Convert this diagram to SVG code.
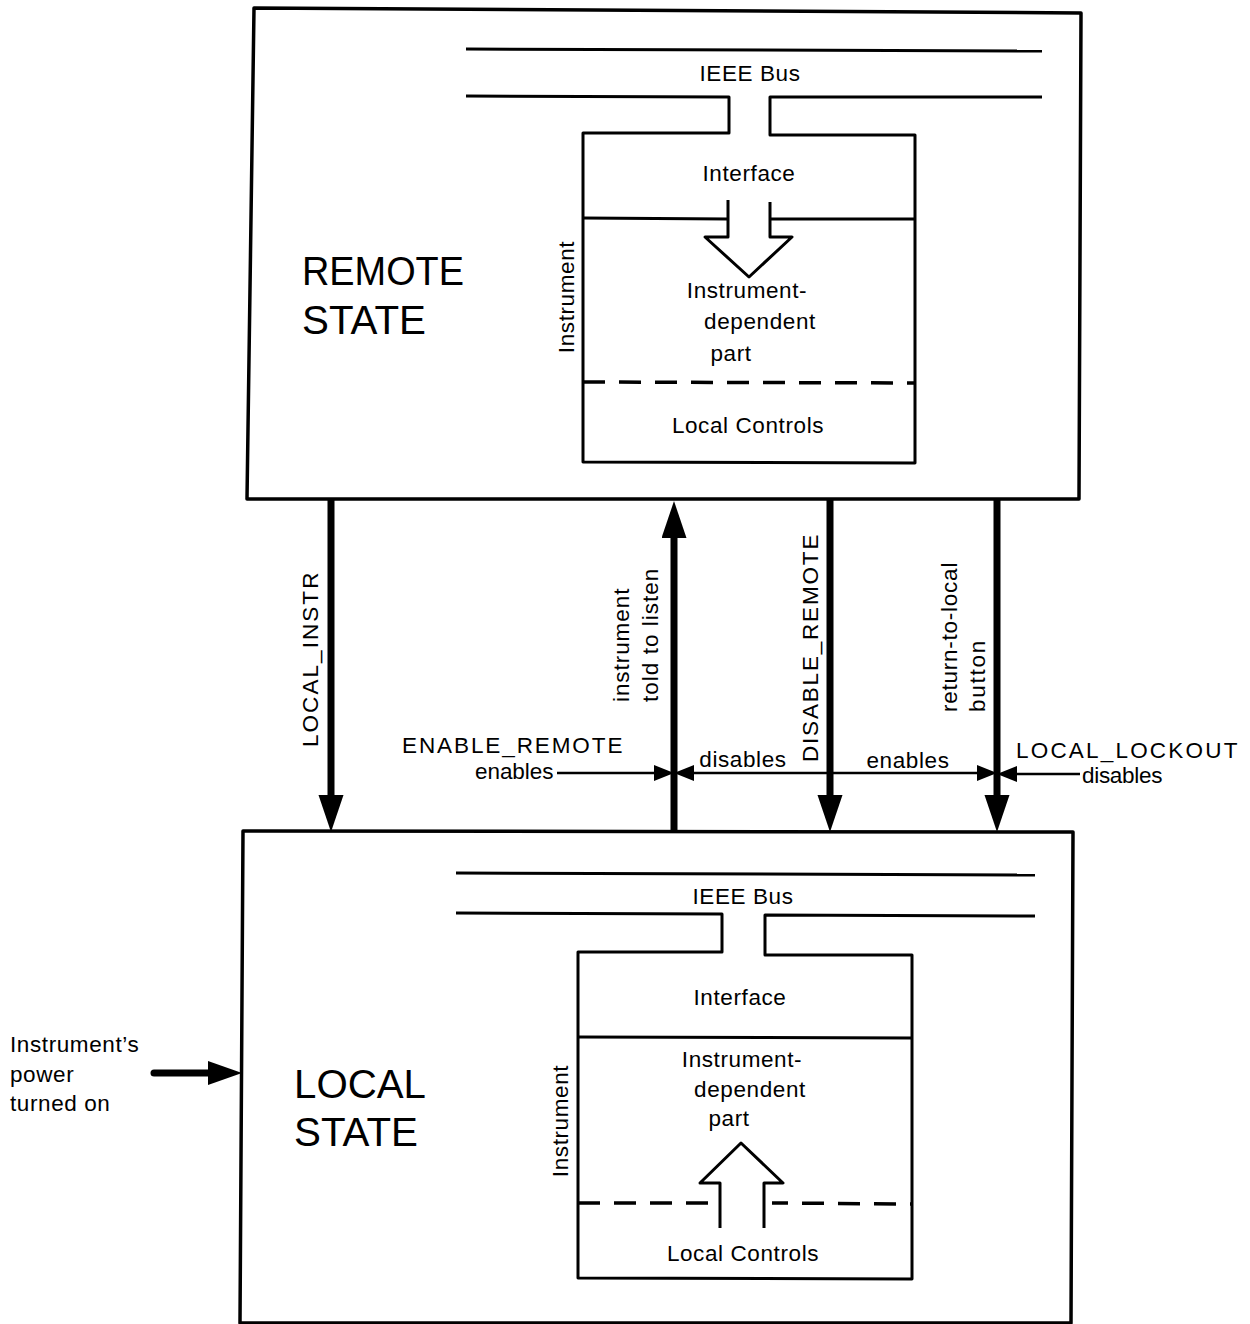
<svg xmlns="http://www.w3.org/2000/svg" width="1250" height="1324" viewBox="0 0 1250 1324">
  <defs>
    <style>
      .frame { fill: none; stroke: #000; stroke-width: 3.5; stroke-linejoin: round; }
      .part { fill: none; stroke: #000; stroke-width: 3; stroke-linejoin: round; }
      .dash { fill: none; stroke: #000; stroke-width: 3.5; stroke-dasharray: 22 14; }
      .thick { fill: none; stroke: #000; stroke-width: 7; }
      .thin { fill: none; stroke: #000; stroke-width: 2.5; }
      .lbl { font-family: "Liberation Sans", Arial, sans-serif; font-size: 22.5px; letter-spacing: 0.6px; fill: #000; }
      .mid { text-anchor: middle; }
      .big { font-family: "Liberation Sans", Arial, sans-serif; font-size: 41px; fill: #000; }
    </style>
    <marker id="headThick" markerUnits="userSpaceOnUse" markerWidth="40" markerHeight="26" refX="0" refY="12.5" orient="auto">
      <path d="M0,0 L37,12.5 L0,25 z" fill="#000"/>
    </marker>
    <marker id="headThin" markerUnits="userSpaceOnUse" markerWidth="22" markerHeight="18" refX="0" refY="8" orient="auto-start-reverse">
      <path d="M0,0 L20,8 L0,16 z" fill="#000"/>
    </marker>
    <marker id="headPower" markerUnits="userSpaceOnUse" markerWidth="36" markerHeight="26" refX="0" refY="12" orient="auto">
      <path d="M0,0 L34,12 L0,24 z" fill="#000"/>
    </marker>
  </defs>

  <!-- Remote state -->
  <g id="remote-state">
    <path class="frame" d="M254,8 L1081,13 L1079,499 L247,499 Z"/>
    <text class="big" x="302" y="285" textLength="162" lengthAdjust="spacingAndGlyphs">REMOTE</text>
    <text class="big" x="302" y="334" textLength="124" lengthAdjust="spacingAndGlyphs">STATE</text>
    <!-- bus -->
    <path class="part" d="M466,49 L1042,51"/>
    <path class="part" d="M466,96 L729,97 L729,133 L583,133 L583,462 L915,463 L915,135 L770,135 L770,97 L1042,97"/>
    <text class="lbl mid" x="750" y="81">IEEE Bus</text>
    <!-- interface -->
    <path class="part" d="M583,218 L728,219 M770,219 L915,219"/>
    <path class="part" d="M728,200 L728,237 L705,237 L749,277 L792,237 L770,237 L770,202"/>
    <text class="lbl mid" x="749" y="181">Interface</text>
    <text class="lbl mid" x="747" y="298">Instrument-</text>
    <text class="lbl mid" x="760" y="329">dependent</text>
    <text class="lbl mid" x="731" y="361">part</text>
    <path class="dash" d="M583,382 L915,383"/>
    <text class="lbl mid" x="748" y="433">Local Controls</text>
    <text class="lbl mid" transform="translate(574,297) rotate(-90)">Instrument</text>
  </g>

  <!-- Local state -->
  <g id="local-state">
    <path class="frame" d="M243,831 L1073,832 L1071,1323 L240,1323 Z"/>
    <text class="big" x="294" y="1098" textLength="132" lengthAdjust="spacingAndGlyphs">LOCAL</text>
    <text class="big" x="294" y="1146" textLength="124" lengthAdjust="spacingAndGlyphs">STATE</text>
    <path class="part" d="M456,873 L1035,875"/>
    <path class="part" d="M456,913 L722,914 L722,952 L578,952 L578,1278 L912,1279 L912,955 L765,955 L765,915 L1035,916"/>
    <text class="lbl mid" x="743" y="904">IEEE Bus</text>
    <path class="part" d="M578,1037 L912,1038"/>
    <text class="lbl mid" x="740" y="1005">Interface</text>
    <text class="lbl mid" x="742" y="1067">Instrument-</text>
    <text class="lbl mid" x="750" y="1097">dependent</text>
    <text class="lbl mid" x="729" y="1126">part</text>
    <path class="part" d="M720,1228 L720,1183 L700,1183 L741,1143 L783,1183 L764,1183 L764,1228"/>
    <path class="dash" d="M578,1203 L712,1203"/>
    <path class="dash" d="M772,1203 L912,1204" stroke-dashoffset="6"/>
    <text class="lbl mid" x="743" y="1261">Local Controls</text>
    <text class="lbl mid" transform="translate(568,1121) rotate(-90)">Instrument</text>
  </g>

  <!-- Power-on entry -->
  <g id="power-on">
    <text class="lbl" x="10" y="1052">Instrument’s</text>
    <text class="lbl" x="10" y="1082">power</text>
    <text class="lbl" x="10" y="1111">turned on</text>
  </g>

  <!-- Transitions -->
  <g id="connectors">
    <line class="thick" x1="154" y1="1073" x2="208" y2="1073" stroke-width="8" stroke-linecap="round" marker-end="url(#headPower)"/>

    <line class="thick" x1="331" y1="499" x2="331" y2="795" marker-end="url(#headThick)"/>
    <line class="thick" x1="674" y1="831" x2="674" y2="538" marker-end="url(#headThick)"/>
    <line class="thick" x1="830" y1="499" x2="830" y2="795" marker-end="url(#headThick)"/>
    <line class="thick" x1="997" y1="499" x2="997" y2="795" marker-end="url(#headThick)"/>

    <line class="thin" x1="557" y1="773" x2="654" y2="773" marker-end="url(#headThin)"/>
    <line class="thin" x1="694" y1="773" x2="977" y2="773" marker-start="url(#headThin)" marker-end="url(#headThin)"/>
    <line class="thin" x1="1080" y1="774" x2="1017" y2="774" marker-end="url(#headThin)"/>

    <text class="lbl" transform="translate(318,747) rotate(-90)" textLength="175" lengthAdjust="spacing">LOCAL_INSTR</text>
    <text class="lbl" transform="translate(629,702) rotate(-90)" textLength="114" lengthAdjust="spacing">instrument</text>
    <text class="lbl" transform="translate(658,702) rotate(-90)" textLength="134" lengthAdjust="spacing">told to listen</text>
    <text class="lbl" transform="translate(818,762) rotate(-90)" textLength="228" lengthAdjust="spacing">DISABLE_REMOTE</text>
    <text class="lbl" transform="translate(957,712) rotate(-90)" textLength="150" lengthAdjust="spacing">return-to-local</text>
    <text class="lbl" transform="translate(985,712) rotate(-90)" textLength="72" lengthAdjust="spacing">button</text>

    <text class="lbl" x="402" y="753" textLength="221" lengthAdjust="spacing">ENABLE_REMOTE</text>
    <text class="lbl" x="475" y="779" textLength="79" lengthAdjust="spacing">enables</text>
    <text class="lbl mid" x="743" y="767">disables</text>
    <text class="lbl mid" x="908" y="768">enables</text>
    <text class="lbl" x="1016" y="758" textLength="222" lengthAdjust="spacing">LOCAL_LOCKOUT</text>
    <text class="lbl" x="1082" y="783" textLength="81" lengthAdjust="spacing">disables</text>
  </g>
</svg>
